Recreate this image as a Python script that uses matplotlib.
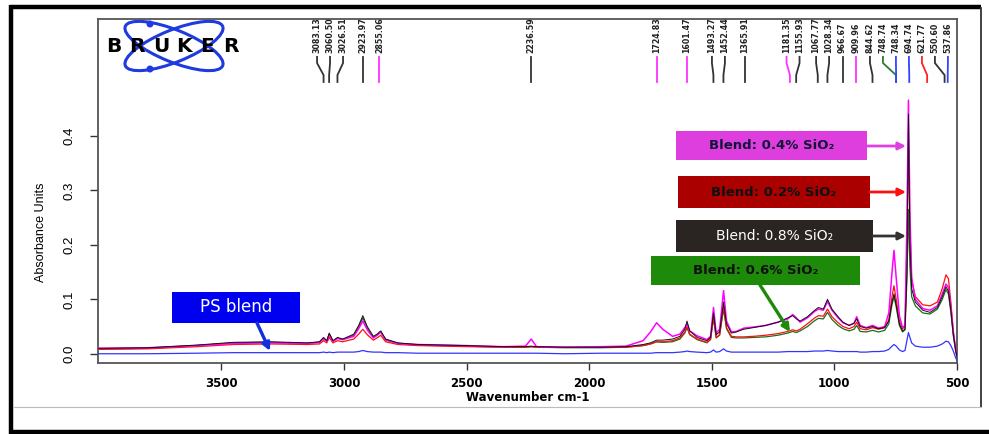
import matplotlib
matplotlib.use("Agg")
import matplotlib.pyplot as plt
from matplotlib.patches import Rectangle, Ellipse, Circle
from matplotlib.lines import Line2D
import numpy as np

# ---------------- data ----------------
wavenumber = [4000, 3800, 3600, 3450, 3300, 3150, 3100, 3083,
              3070, 3060, 3045, 3026, 3005, 2960, 2940, 2923,
              2905, 2880, 2865, 2850, 2830, 2780, 2700, 2500,
              2350, 2260, 2236, 2215, 2100, 1950, 1850, 1780,
              1750, 1725, 1700, 1660, 1630, 1610, 1601, 1590,
              1560, 1520, 1505, 1493, 1482, 1468, 1452, 1440,
              1420, 1400, 1370, 1330, 1280, 1230, 1190, 1170,
              1155, 1140, 1110, 1080, 1065, 1045, 1028, 1010,
              985, 965, 940, 920, 909, 895, 870, 844,
              820, 795, 778, 765, 757, 748, 735, 722,
              712, 704, 698, 692, 685, 670, 640, 610,
              580, 560, 545, 535, 525, 515, 505, 500]

blend_08 = [.010, .011, .016, .021, .022, .020, .022, .030,
            .024, .038, .024, .030, .027, .036, .052, .070,
            .050, .032, .036, .042, .027, .020, .017, .015,
            .013, .013, .014, .013, .012, .012, .013, .017,
            .020, .025, .025, .027, .032, .045, .060, .042,
            .030, .024, .030, .075, .035, .040, .095, .055,
            .038, .040, .045, .048, .052, .058, .066, .070,
            .064, .060, .068, .080, .085, .082, .100, .082,
            .068, .058, .052, .056, .064, .050, .047, .050,
            .046, .048, .060, .095, .110, .090, .055, .042,
            .045, .150, .440, .200, .120, .095, .080, .076,
            .085, .105, .123, .115, .080, .035, .005, -.005]

blend_04 = [.010, .011, .015, .019, .020, .019, .021, .028,
            .023, .035, .023, .028, .026, .032, .046, .060,
            .044, .029, .034, .040, .026, .019, .017, .015,
            .013, .014, .027, .013, .012, .013, .014, .024,
            .040, .057, .045, .032, .036, .048, .055, .042,
            .033, .026, .032, .085, .038, .045, .116, .060,
            .040, .041, .047, .049, .052, .058, .064, .072,
            .066, .058, .066, .078, .082, .080, .096, .080,
            .066, .057, .052, .056, .068, .052, .048, .052,
            .047, .050, .075, .150, .190, .140, .070, .048,
            .052, .250, .466, .260, .140, .100, .083, .080,
            .088, .110, .128, .122, .085, .038, .006, -.004]

blend_02 = [.008, .009, .013, .017, .018, .017, .018, .024,
            .020, .030, .020, .024, .022, .027, .036, .045,
            .035, .025, .029, .034, .022, .017, .015, .013,
            .012, .012, .013, .012, .012, .012, .012, .015,
            .018, .022, .022, .024, .029, .040, .050, .036,
            .027, .021, .027, .068, .030, .035, .088, .048,
            .032, .031, .031, .032, .034, .037, .041, .044,
            .042, .045, .055, .066, .070, .069, .082, .068,
            .057, .050, .046, .050, .058, .046, .044, .048,
            .045, .048, .062, .105, .125, .100, .060, .046,
            .050, .200, .390, .230, .135, .105, .090, .088,
            .095, .120, .145, .138, .095, .042, .007, -.004]

blend_06 = [.009, .010, .015, .020, .021, .019, .021, .028,
            .023, .036, .023, .029, .026, .034, .049, .066,
            .047, .030, .034, .040, .025, .019, .016, .014,
            .012, .012, .013, .012, .011, .011, .012, .015,
            .018, .022, .021, .022, .027, .038, .048, .035,
            .026, .020, .026, .065, .029, .034, .082, .046,
            .030, .029, .029, .030, .031, .034, .038, .041,
            .039, .042, .050, .061, .065, .064, .076, .063,
            .052, .046, .042, .045, .052, .041, .040, .043,
            .040, .043, .055, .090, .105, .086, .052, .040,
            .044, .140, .265, .160, .105, .088, .075, .073,
            .082, .100, .118, .110, .076, .033, .004, -.006]

ps_blend = [.000, .000, .001, .002, .002, .002, .002, .003,
            .002, .003, .002, .003, .003, .003, .004, .006,
            .004, .003, .003, .003, .002, .002, .001, .001,
            .001, .001, .001, .001, .000, .001, .001, .001,
            .001, .002, .002, .002, .003, .004, .005, .004,
            .003, .002, .003, .007, .003, .004, .009, .005,
            .003, .003, .003, .003, .003, .003, .004, .004,
            .004, .004, .004, .005, .005, .005, .006, .005,
            .004, .004, .004, .004, .004, .003, .003, .004,
            .004, .005, .008, .014, .017, .014, .007, .004,
            .006, .025, .039, .030, .020, .014, .012, .012,
            .014, .018, .023, .022, .015, .005, -.008, -.012]

peak_labels = ["3083.13", "3060.50", "3026.51", "2923.97", "2855.06", "2236.59",
               "1724.83", "1601.47", "1493.27", "1452.44", "1365.91", "1181.35",
               "1155.93", "1067.77", "1028.34", "966.67", "909.96", "844.62",
               "748.74", "748.34", "694.74", "621.77", "550.60", "537.86"]
peak_colors = ["#333333", "#333333", "#333333", "#333333", "#FF33FF", "#333333",
               "#FF33FF", "#FF33FF", "#333333", "#333333", "#333333", "#FF33FF",
               "#333333", "#333333", "#333333", "#333333", "#FF33FF", "#333333",
               "#2E7D32", "#3344FF", "#3344FF", "#FF2222", "#333333", "#3344FF"]

xticks = [3500, 3000, 2500, 2000, 1500, 1000, 500]
yticks = [0.0, 0.1, 0.2, 0.3, 0.4]

# ---------------- figure ----------------
W, H = 989, 434
fig = plt.figure(figsize=(W / 100, H / 100), dpi=100)
fig.patch.set_facecolor("white")

L, R, T, B = 98, 957, 19, 363
ax = fig.add_axes([L / W, (H - B) / H, (R - L) / W, (B - T) / H])

ax.plot(wavenumber, blend_06, color="#1B6E1B", lw=0.9, zorder=2)
ax.plot(wavenumber, blend_02, color="#FF1010", lw=0.9, zorder=3)
ax.plot(wavenumber, blend_04, color="#FF00FF", lw=1.1, zorder=4)
ax.plot(wavenumber, blend_08, color="#111111", lw=0.7, zorder=5)
ax.plot(wavenumber, ps_blend, color="#3333FF", lw=0.9, zorder=6)

ax.set_xlim(4003, 500)
ax.set_ylim(-0.017, 0.615)
ax.set_xticks(xticks)
ax.set_yticks(yticks)
ax.set_xticklabels([str(v) for v in xticks], fontsize=8.5, fontweight="bold")
ax.set_yticklabels(["%.1f" % v for v in yticks], fontsize=9.5,
                   family=["Liberation Sans", "DejaVu Sans"],
                   rotation=90, va="center")
ax.tick_params(axis="x", direction="out", length=5, width=1, color="#333333", pad=5)
ax.tick_params(axis="y", direction="out", length=6, width=1, color="#333333", pad=10)
for s in ax.spines.values():
    s.set_color("#555555")
    s.set_linewidth(1.3)

ax.set_xlabel("Wavenumber cm-1", fontsize=8.5, fontweight="bold", labelpad=1)
ax.set_ylabel("Absorbance Units", fontsize=9,
              family=["Liberation Sans", "DejaVu Sans"])
ax.yaxis.set_label_coords(-0.059, 0.381)

# ---------- peak picking labels (spread to avoid overlap) ----------
true_pos = [float(s) for s in peak_labels]
gap = 53.0
pos = list(true_pos)
for _ in range(400):
    for i in range(len(pos) - 1):
        d = pos[i] - pos[i + 1]
        if d < gap:
            shift = (gap - d) / 2
            pos[i] += shift
            pos[i + 1] -= shift
    if pos[-1] < 537.0:
        pos[-1] = 537.0
trans = ax.get_xaxis_transform()
y_top, y_b1, y_b2, y_bot = 0.890, 0.872, 0.837, 0.817
for lab, col, tp, lp in zip(peak_labels, peak_colors, true_pos, pos):
    ax.plot([lp, lp, tp, tp], [y_top, y_b1, y_b2, y_bot], color=col, lw=1.3,
            transform=trans, clip_on=False, zorder=7)
    ax.text(lp, 0.902, lab, rotation=90, ha="center", va="bottom",
            fontsize=5.7, fontweight="bold", color="#222222", transform=trans)

# ---------------- overlay in pixel coordinates ----------------
ov = fig.add_axes([0, 0, 1, 1], zorder=10)
ov.set_xlim(0, W)
ov.set_ylim(H, 0)
ov.axis("off")
ov.patch.set_alpha(0)

# frame lines
ov.add_line(Line2D([10, 981], [6.5, 6.5], color="black", lw=3.2, solid_capstyle="butt"))
ov.add_line(Line2D([11, 11], [5, 434], color="black", lw=3.2, solid_capstyle="butt"))
ov.add_line(Line2D([10, 989], [431.5, 431.5], color="black", lw=3.2, solid_capstyle="butt"))
ov.add_line(Line2D([981, 981], [8, 407], color="#333333", lw=1.3))
ov.add_line(Line2D([13, 981], [407, 407], color="#BBBBBB", lw=0.8))

# Bruker logo
for ang in (22, -22):
    ov.add_patch(Ellipse((174, 46), 105, 32, angle=ang, fill=False,
                         edgecolor="#1F3BE0", lw=2.2))
ov.add_patch(Circle((150, 24), 2.8, color="#1F3BE0"))
ov.add_patch(Circle((150, 69), 2.8, color="#1F3BE0"))
for ch, xc in zip("BRUKER", [114, 137, 161, 184, 207, 231]):
    ov.text(xc, 47, ch, ha="center", va="center", fontsize=14.5,
            fontweight="black", color="black")

# annotation boxes
def box(x0, y0, x1, y1, fc, text, tc, weight, size):
    ov.add_patch(Rectangle((x0, y0), x1 - x0, y1 - y0, facecolor=fc,
                           edgecolor="none"))
    ov.text((x0 + x1) / 2, (y0 + y1) / 2, text, ha="center", va="center",
            color=tc, fontweight=weight, fontsize=size)

def arrow(x0, y0, x1, y1, col, lw=2.0):
    ov.annotate("", xy=(x1, y1), xytext=(x0, y0),
                arrowprops=dict(arrowstyle="-|>", color=col, lw=lw,
                                mutation_scale=11, shrinkA=0, shrinkB=0))

box(676, 131, 867, 160, "#DE3EDE", "Blend: 0.4% SiO\u2082", "#14143A", "bold", 9.5)
arrow(867, 146, 906, 146, "#E040E0")
box(678, 176, 870, 208, "#AA0000", "Blend: 0.2% SiO\u2082", "#111111", "bold", 9.5)
arrow(870, 192, 906, 192, "#FF1010")
box(676, 220, 873, 252, "#2A2422", "Blend: 0.8% SiO\u2082", "white", "normal", 10)
arrow(873, 236, 906, 236, "#333333")
box(651, 256, 860, 285, "#1E8A0A", "Blend: 0.6% SiO\u2082", "#111111", "bold", 9.5)
arrow(760, 285, 790, 332, "#1E8A0A", 2.4)
box(172, 292, 300, 323, "#0000F0", "PS blend", "white", "normal", 12)
arrow(257, 323, 270, 351, "#1030E0", 2.4)

fig.savefig("out.png", dpi=100, facecolor="white")
